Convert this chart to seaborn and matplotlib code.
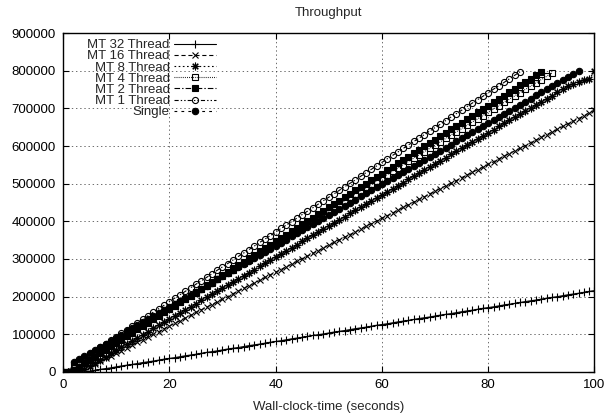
import numpy as np
import pandas as pd
import matplotlib
matplotlib.use("Agg")
import matplotlib.pyplot as plt
import seaborn as sns
from matplotlib.ticker import FuncFormatter

# Throughput (thousands of requests), one sample per second starting at t = 0
mt32 = [0, 0, 0, 0, 0,
        2, 4.5, 7, 9, 11, 13.5, 16, 18, 20, 22.5,
        25, 27, 29, 31.5, 34, 36, 38, 40.5, 43, 45,
        47, 49.5, 52, 54, 56, 58.5, 61, 63, 65, 67.5,
        70, 72, 74, 76.5, 79, 81, 83, 85.5, 88, 90,
        92, 94.5, 97, 99, 101, 103.5, 106, 108, 110, 112.5,
        115, 117, 119, 121.5, 124, 126, 128, 130.5, 133, 135,
        137, 139.5, 142, 144, 146, 148.5, 151, 153, 155, 157.5,
        160, 162, 164, 166.5, 169, 171, 173, 175.5, 178, 180,
        182, 184.5, 187, 189, 191, 193.5, 196, 198, 200, 202.5,
        205, 207, 209, 211.5, 214, 216]
mt16 = [0, 0, 0, 0,
        7, 14, 21, 29, 36, 43, 50, 57, 64, 72,
        79, 86, 93, 100, 107, 115, 122, 129, 136, 143,
        150, 158, 165, 172, 179, 186, 193, 200, 208, 215,
        222, 229, 236, 243, 251, 258, 265, 272, 279, 286,
        294, 301, 308, 315, 322, 329, 337, 344, 351, 358,
        365, 372, 379, 387, 394, 401, 408, 415, 422, 430,
        437, 444, 451, 458, 465, 473, 480, 487, 494, 501,
        508, 516, 523, 530, 537, 544, 551, 558, 566, 573,
        580, 587, 594, 601, 609, 616, 623, 630, 637, 644,
        652, 659, 666, 673, 680, 688, 695]
mt8 = [0, 0, 0, 0,
       8, 16.5, 25, 33, 41, 49.5, 58, 66, 74, 82.5,
       91, 99, 107, 115.5, 124, 132, 140, 148.5, 157, 165,
       173, 181.5, 190, 198, 206, 214.5, 223, 231, 239, 247.5,
       256, 264, 272, 280.5, 289, 297, 305, 313.5, 322, 330,
       338, 346.5, 355, 363, 371, 379.5, 388, 396, 404, 412.5,
       421, 429, 437, 445.5, 454, 462, 470, 478.5, 487, 495,
       503, 511.5, 520, 528, 536, 544.5, 553, 561, 569, 577.5,
       586, 594, 602, 610.5, 619, 627, 635, 643.5, 652, 660,
       668, 676.5, 685, 693, 701, 709.5, 718, 726, 734, 742.5,
       751, 759, 765, 770, 774, 778, 798]
mt4 = [0, 0,
       11, 20, 28.5, 37, 46, 54.5, 63, 72, 80.5, 89,
       98, 107, 115.5, 124, 133, 141.5, 150, 159, 167.5, 176,
       185, 194, 202.5, 211, 220, 228.5, 237, 246, 254.5, 263,
       272, 281, 289.5, 298, 307, 315.5, 324, 333, 341.5, 350,
       359, 368, 376.5, 385, 394, 402.5, 411, 420, 428.5, 437,
       446, 455, 463.5, 472, 481, 489.5, 498, 507, 515.5, 524,
       533, 542, 550.5, 559, 568, 576.5, 585, 594, 602.5, 611,
       620, 629, 637.5, 646, 655, 663.5, 672, 681, 689.5, 698,
       707, 716, 724.5, 733, 742, 750.5, 759, 768, 776.5, 785,
       794]
mt2 = [0, 0,
       5, 14, 23, 32, 41, 50, 59, 68, 77, 86,
       95, 104, 113, 122, 131, 140, 149, 158, 167, 176,
       185, 194, 203, 212, 221, 230, 239, 248, 257, 266,
       275, 284, 293, 302, 311, 320, 329, 338, 347, 356,
       365, 374, 383, 392, 401, 410, 419, 428, 437, 446,
       455, 464, 473, 482, 491, 500, 509, 518, 527, 536,
       545, 554, 563, 572, 581, 590, 599, 608, 617, 626,
       635, 644, 653, 662, 671, 680, 689, 698, 707, 716,
       725, 734, 743, 752, 761, 770, 779, 788, 797]
mt1 = [0, 0,
       20, 29, 38.5, 48, 57, 66, 75.5, 85, 94, 103,
       112.5, 122, 131, 140, 149.5, 159, 168, 177, 186.5, 196,
       205, 214, 223.5, 233, 242, 251, 260.5, 270, 279, 288,
       297.5, 307, 316, 325, 334.5, 344, 353, 362, 371.5, 381,
       390, 399, 408.5, 418, 427, 436, 445.5, 455, 464, 473,
       482.5, 492, 501, 510, 519.5, 529, 538, 547, 556.5, 566,
       575, 584, 593.5, 603, 612, 621, 630.5, 640, 649, 658,
       667.5, 677, 686, 695, 704.5, 714, 723, 732, 741.5, 751,
       760, 769, 778.5, 788, 797]
single = [0, 0,
          26, 34, 42, 50.5, 58.5, 66.5, 75, 83, 91, 99,
          107.5, 115.5, 123.5, 132, 140, 148, 156, 164.5, 172.5, 180.5,
          189, 197, 205, 213, 221.5, 229.5, 237.5, 246, 254, 262,
          270.5, 278.5, 286.5, 294.5, 303, 311, 319, 327.5, 335.5, 343.5,
          351.5, 360, 368, 376, 384.5, 392.5, 400.5, 408.5, 417, 425,
          433, 441.5, 449.5, 457.5, 466, 474, 482, 490, 498, 506.5,
          514.5, 522.5, 531, 539, 547, 555, 563.5, 571.5, 579.5, 588,
          596, 604, 612, 620.5, 628.5, 636.5, 645, 653, 661, 669,
          677.5, 685.5, 693.5, 702, 710, 718, 726, 734.5, 742.5, 750.5,
          759, 767, 775, 783, 791.5, 800]

labels = ["MT 32 Thread", "MT 16 Thread", "MT 8 Thread", "MT 4 Thread",
          "MT 2 Thread", "MT 1 Thread", "Single"]
series = [mt32, mt16, mt8, mt4, mt2, mt1, single]

x_ticks = [0, 20, 40, 60, 80, 100]
y_ticks = [0, 100000, 200000, 300000, 400000, 500000, 600000, 700000, 800000, 900000]

frames = []
for lab, vals in zip(labels, series):
    frames.append(pd.DataFrame({"time": np.arange(len(vals)),
                                "throughput": np.array(vals, dtype=float) * 1000,
                                "series": lab}))
df = pd.concat(frames, ignore_index=True)

styles = {
    "MT 32 Thread": dict(linestyle="-", marker="+", ms=5.5, mfc="black"),
    "MT 16 Thread": dict(linestyle=(0, (3, 2)), marker="x", ms=4.5, mfc="black"),
    "MT 8 Thread": dict(linestyle=(0, (1.2, 1.8)), marker=(8, 2, 0), ms=5.5, mfc="black"),
    "MT 4 Thread": dict(linestyle=(0, (0.6, 0.9)), marker="s", ms=4.6, mfc="none"),
    "MT 2 Thread": dict(linestyle=(0, (4, 1.5, 1, 1.5)), marker="s", ms=4.8, mfc="black"),
    "MT 1 Thread": dict(linestyle=(0, (3, 1.5, 1, 1.5, 1, 1.5)), marker="o", ms=4.4, mfc="none"),
    "Single": dict(linestyle=(0, (2, 3)), marker="o", ms=4.6, mfc="black"),
}

sns.set_style("ticks")
plt.rcParams["font.family"] = ["Liberation Sans", "DejaVu Sans"]
plt.rcParams["lines.scale_dashes"] = False
plt.rcParams["font.size"] = 9.5

fig = plt.figure(figsize=(6.07, 4.19), dpi=100)
ax = fig.add_axes([0.1038, 0.1122, 0.9794 - 0.1038, 0.9212 - 0.1122])

for lab in labels:
    sub = df[df["series"] == lab]
    st = styles[lab]
    sns.lineplot(data=sub, x="time", y="throughput", ax=ax, color="black",
                 linewidth=0.8, linestyle=st["linestyle"], marker=st["marker"],
                 markersize=st["ms"], markerfacecolor=st["mfc"],
                 markeredgecolor="black", markeredgewidth=0.8,
                 label=lab, legend=False, errorbar=None, sort=True)

ax.set_xlim(0, 100)
ax.set_ylim(0, 900000)
ax.set_xticks(x_ticks)
ax.set_yticks(y_ticks)
ax.yaxis.set_major_formatter(FuncFormatter(lambda v, p: f"{int(round(v))}"))
ax.tick_params(direction="in", top=True, right=True, length=4, width=0.8,
               labelsize=9.5, colors="black", pad=5)
ax.grid(True, linestyle=(0, (1, 2)), color="#333333", linewidth=0.5)
for sp in ax.spines.values():
    sp.set_visible(True)
    sp.set_color("black")
    sp.set_linewidth(1.0)

ax.set_xlabel("Wall-clock-time (seconds)", fontsize=9.5, labelpad=7)
ax.set_ylabel("")
ax.set_title("Throughput", fontsize=9.5, pad=12)

handles = ax.get_lines()[:len(labels)]
leg = ax.legend(handles, labels, loc="upper right",
                bbox_to_anchor=(216 / 607, 1 - 39 / 419), bbox_transform=fig.transFigure,
                frameon=False, markerfirst=False, handlelength=3.2, handletextpad=0.3,
                labelspacing=-0.08, borderpad=0, borderaxespad=0, fontsize=9.5)

fig.savefig("out.png", dpi=100, facecolor="white")
